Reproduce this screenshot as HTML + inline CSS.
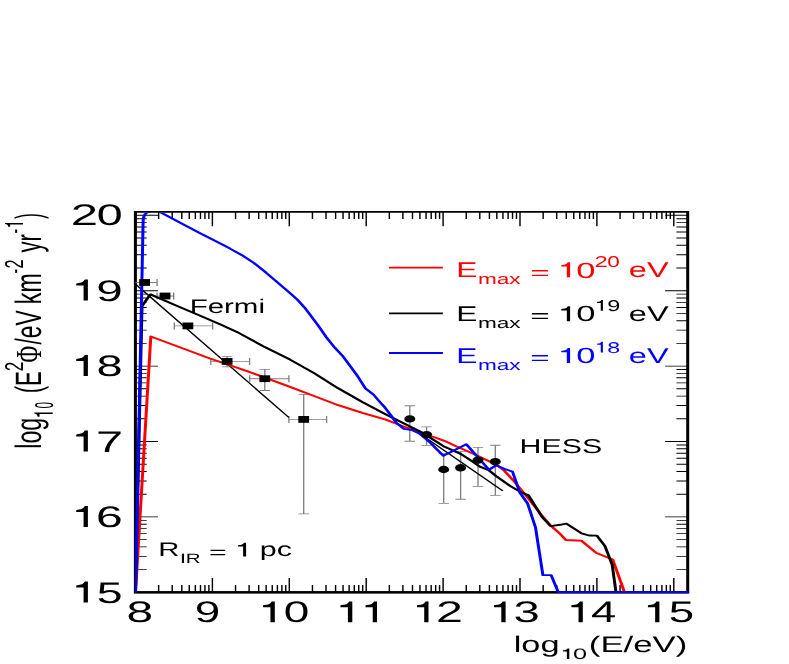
<!DOCTYPE html><html><head><meta charset="utf-8"><title>plot</title><style>html,body{margin:0;padding:0;background:#fff}svg{display:block;will-change:transform}text{font-family:"Liberation Sans",sans-serif;text-rendering:geometricPrecision}.s{font-family:"Liberation Serif",serif}</style></head><body>
<svg width="789" height="664" viewBox="0 0 789 664">
<rect width="789" height="664" fill="#fff"/>
<g transform="scale(1.58 1)">
<defs><clipPath id="c"><rect x="85.443" y="212.8" width="350.759" height="380.6000000000001"/></clipPath></defs>
<path d="M85.696 211.9H435.253V592.2H85.696Z" stroke="#000" stroke-width="1.9" fill="none" stroke-linejoin="miter"/>
<path d="M84.747 592.35H436.203" stroke="#000" stroke-width="2.2" fill="none"/>
<path d="M85.759 592.2v-14.3M85.759 211.9v14.3M100.411 592.2v-7.2M100.411 211.9v7.2M108.981 592.2v-7.2M108.981 211.9v7.2M115.062 592.2v-7.2M115.062 211.9v7.2M119.779 592.2v-7.2M119.779 211.9v7.2M123.633 592.2v-7.2M123.633 211.9v7.2M126.891 592.2v-7.2M126.891 211.9v7.2M129.714 592.2v-7.2M129.714 211.9v7.2M132.203 592.2v-7.2M132.203 211.9v7.2M134.43 592.2v-14.3M134.43 211.9v14.3M149.082 592.2v-7.2M149.082 211.9v7.2M157.652 592.2v-7.2M157.652 211.9v7.2M163.733 592.2v-7.2M163.733 211.9v7.2M168.45 592.2v-7.2M168.45 211.9v7.2M172.304 592.2v-7.2M172.304 211.9v7.2M175.562 592.2v-7.2M175.562 211.9v7.2M178.385 592.2v-7.2M178.385 211.9v7.2M180.874 592.2v-7.2M180.874 211.9v7.2M183.101 592.2v-14.3M183.101 211.9v14.3M197.753 592.2v-7.2M197.753 211.9v7.2M206.323 592.2v-7.2M206.323 211.9v7.2M212.404 592.2v-7.2M212.404 211.9v7.2M217.121 592.2v-7.2M217.121 211.9v7.2M220.975 592.2v-7.2M220.975 211.9v7.2M224.233 592.2v-7.2M224.233 211.9v7.2M227.055 592.2v-7.2M227.055 211.9v7.2M229.545 592.2v-7.2M229.545 211.9v7.2M231.772 592.2v-14.3M231.772 211.9v14.3M246.424 592.2v-7.2M246.424 211.9v7.2M254.994 592.2v-7.2M254.994 211.9v7.2M261.075 592.2v-7.2M261.075 211.9v7.2M265.792 592.2v-7.2M265.792 211.9v7.2M269.645 592.2v-7.2M269.645 211.9v7.2M272.904 592.2v-7.2M272.904 211.9v7.2M275.726 592.2v-7.2M275.726 211.9v7.2M278.216 592.2v-7.2M278.216 211.9v7.2M280.443 592.2v-14.3M280.443 211.9v14.3M295.094 592.2v-7.2M295.094 211.9v7.2M303.665 592.2v-7.2M303.665 211.9v7.2M309.746 592.2v-7.2M309.746 211.9v7.2M314.463 592.2v-7.2M314.463 211.9v7.2M318.316 592.2v-7.2M318.316 211.9v7.2M321.575 592.2v-7.2M321.575 211.9v7.2M324.397 592.2v-7.2M324.397 211.9v7.2M326.887 592.2v-7.2M326.887 211.9v7.2M329.114 592.2v-14.3M329.114 211.9v14.3M343.765 592.2v-7.2M343.765 211.9v7.2M352.336 592.2v-7.2M352.336 211.9v7.2M358.417 592.2v-7.2M358.417 211.9v7.2M363.133 592.2v-7.2M363.133 211.9v7.2M366.987 592.2v-7.2M366.987 211.9v7.2M370.246 592.2v-7.2M370.246 211.9v7.2M373.068 592.2v-7.2M373.068 211.9v7.2M375.558 592.2v-7.2M375.558 211.9v7.2M377.785 592.2v-14.3M377.785 211.9v14.3M392.436 592.2v-7.2M392.436 211.9v7.2M401.007 592.2v-7.2M401.007 211.9v7.2M407.088 592.2v-7.2M407.088 211.9v7.2M411.804 592.2v-7.2M411.804 211.9v7.2M415.658 592.2v-7.2M415.658 211.9v7.2M418.916 592.2v-7.2M418.916 211.9v7.2M421.739 592.2v-7.2M421.739 211.9v7.2M424.229 592.2v-7.2M424.229 211.9v7.2M426.456 592.2v-14.3M426.456 211.9v14.3M85.696 569.60h7.152M435.253 569.60h-7.152M85.696 556.33h7.152M435.253 556.33h-7.152M85.696 546.90h7.152M435.253 546.90h-7.152M85.696 539.60h7.152M435.253 539.60h-7.152M85.696 533.63h7.152M435.253 533.63h-7.152M85.696 528.58h7.152M435.253 528.58h-7.152M85.696 524.21h7.152M435.253 524.21h-7.152M85.696 520.35h7.152M435.253 520.35h-7.152M85.696 516.90h14.304M435.253 516.90h-14.304M85.696 494.20h7.152M435.253 494.20h-7.152M85.696 480.93h7.152M435.253 480.93h-7.152M85.696 471.50h7.152M435.253 471.50h-7.152M85.696 464.20h7.152M435.253 464.20h-7.152M85.696 458.23h7.152M435.253 458.23h-7.152M85.696 453.18h7.152M435.253 453.18h-7.152M85.696 448.81h7.152M435.253 448.81h-7.152M85.696 444.95h7.152M435.253 444.95h-7.152M85.696 441.50h14.304M435.253 441.50h-14.304M85.696 418.80h7.152M435.253 418.80h-7.152M85.696 405.53h7.152M435.253 405.53h-7.152M85.696 396.10h7.152M435.253 396.10h-7.152M85.696 388.80h7.152M435.253 388.80h-7.152M85.696 382.83h7.152M435.253 382.83h-7.152M85.696 377.78h7.152M435.253 377.78h-7.152M85.696 373.41h7.152M435.253 373.41h-7.152M85.696 369.55h7.152M435.253 369.55h-7.152M85.696 366.10h14.304M435.253 366.10h-14.304M85.696 343.40h7.152M435.253 343.40h-7.152M85.696 330.13h7.152M435.253 330.13h-7.152M85.696 320.70h7.152M435.253 320.70h-7.152M85.696 313.40h7.152M435.253 313.40h-7.152M85.696 307.43h7.152M435.253 307.43h-7.152M85.696 302.38h7.152M435.253 302.38h-7.152M85.696 298.01h7.152M435.253 298.01h-7.152M85.696 294.15h7.152M435.253 294.15h-7.152M85.696 290.70h14.304M435.253 290.70h-14.304M85.696 268.00h7.152M435.253 268.00h-7.152M85.696 254.73h7.152M435.253 254.73h-7.152M85.696 245.30h7.152M435.253 245.30h-7.152M85.696 238.00h7.152M435.253 238.00h-7.152M85.696 232.03h7.152M435.253 232.03h-7.152M85.696 226.98h7.152M435.253 226.98h-7.152M85.696 222.61h7.152M435.253 222.61h-7.152M85.696 218.75h7.152M435.253 218.75h-7.152M85.696 215.30h14.304M435.253 215.30h-14.304" stroke="#000" stroke-width="0.9" fill="none"/>
<path d="M85.759 282.5H99.43M99.43 279.0v7.0M99.43 296.0H109.937M109.937 292.5v7.0M99.43 292.5v7.0M110.316 325.9H134.557M134.557 322.4v7.0M110.316 322.4v7.0M133.418 361.4H157.975M157.975 357.9v7.0M133.418 357.9v7.0M143.734 356.4V366.9M140.443 356.4h6.582M140.443 366.9h6.582M157.975 378.7H182.848M182.848 375.2v7.0M157.975 375.2v7.0M167.595 369.4V390.5M164.304 369.4h6.582M164.304 390.5h6.582M182.848 419.4H206.709M206.709 415.9v7.0M182.848 415.9v7.0M192.215 394.3V513.8M188.924 394.3h6.582M188.924 513.8h6.582M259.367 405.7V441.2M256.076 405.7h6.582M256.076 441.2h6.582M270.0 426.9V445.4M266.709 426.9h6.582M266.709 445.4h6.582M280.823 453.6V503.3M277.532 453.6h6.582M277.532 503.3h6.582M291.519 451.4V499.2M288.228 451.4h6.582M288.228 499.2h6.582M302.532 447.3V486.4M299.241 447.3h6.582M299.241 486.4h6.582M313.481 445.2V495.3M310.19 445.2h6.582M310.19 495.3h6.582" stroke="#808080" stroke-width="0.85" fill="none"/>
<path d="M85.759 284.1L182.848 417.5M259.241 426.6L318.228 490.8" stroke="#000" stroke-width="1.15" fill="none" clip-path="url(#c)"/>
<g clip-path="url(#c)" fill="none" stroke-linejoin="round" stroke-width="1.9">
<path d="M85.759 592.2L95.443 336.5L132.911 358.5L158.228 372.2L183.544 386.9L198.797 396L214.051 405.2L229.304 412.9L243.671 419.4L255.127 426.2L268.924 434.3L274.557 437L281.646 441.1L288.671 446.2L297.468 452.2L308.924 460.8L315.443 466.2L319.177 470.7L324.873 480.4L330.063 490.1L334.241 498.1L342.785 515.2L348.513 525.6L354.43 533.7L358.101 540L368.101 540.8L377.468 553L387.785 559.5L392.468 580L395.253 592.2" stroke="#f00"/>
<path d="M85.759 592.2L89.873 306.0L95.19 294.4L111.456 305.5L126.709 315.7L139.241 324.2L151.329 333.1L166.582 346.3L183.544 359.6L198.797 373.1L214.051 388.3L229.304 402L243.671 414L255.063 423L266.519 432L280.696 446.2L291.582 453.9L297.468 459.9L303.734 466.6L309.494 470.3L314.051 476.1L318.544 481.1L322.785 485.9L330.19 492.6L334.494 495.4L343.101 517L348.513 526.1L354.43 524.8L358.481 523.7L368.101 533.4L372.785 535.5L377.785 535.6L382.785 545.8L387.468 564.8L388.797 580L389.873 592.2" stroke="#000"/>
<path d="M85.759 592.3L90.57 222L90.696 219L91.076 216.5L91.709 214.6L92.848 212.8L94.304 210.5L96.203 206L99.367 206L101.519 212.3L110.19 219.4L125.443 232.2L140.696 244.6L145.57 248.6L153.165 255.2L160.823 263.1L168.418 272.7L176.076 283L183.671 293.2L188.291 299.8L192.848 307.7L196.203 314.7L201.329 325.3L206.266 336.7L211.203 346.4L216.582 355.4L221.899 366.7L226.266 376L231.266 388.3L236.392 394.6L241.899 404.6L243.671 407.6L247.215 415L251.013 423L255.633 428.9L260.949 430.2L265.38 433.4L272.025 442.3L280.57 455.7L295.127 444.3L309.494 469.8L314.051 465.3L319.177 468.9L324.367 471.6L328.987 492.5L333.924 503.5L338.924 527.4L343.608 575.1L348.797 575.1L353.354 592.3L436.076 592.3" stroke="#00f"/>
</g>
<rect x="88.101" y="279.1" width="6.835" height="6.8" fill="#000"/>
<rect x="101.013" y="292.6" width="6.835" height="6.8" fill="#000"/>
<rect x="115.506" y="322.5" width="6.835" height="6.8" fill="#000"/>
<rect x="140.316" y="358.0" width="6.835" height="6.8" fill="#000"/>
<rect x="164.177" y="375.3" width="6.835" height="6.8" fill="#000"/>
<rect x="188.797" y="416.0" width="6.835" height="6.8" fill="#000"/>
<ellipse cx="259.367" cy="418.9" rx="3.481" ry="3.7" fill="#000"/>
<ellipse cx="270.0" cy="434.6" rx="3.481" ry="3.7" fill="#000"/>
<ellipse cx="280.823" cy="469.5" rx="3.481" ry="3.7" fill="#000"/>
<ellipse cx="291.519" cy="467.8" rx="3.481" ry="3.7" fill="#000"/>
<ellipse cx="302.532" cy="460.1" rx="3.481" ry="3.7" fill="#000"/>
<ellipse cx="313.481" cy="461.6" rx="3.481" ry="3.7" fill="#000"/>
<path d="M246.203 267.7H280.316" stroke="#f00" stroke-width="1.8"/>
<path d="M246.203 313.3H280.316" stroke="#000" stroke-width="1.8"/>
<path d="M246.203 353.0H280.316" stroke="#00f" stroke-width="1.8"/>
</g>
<path transform="translate(76.20 581.60) scale(1.0541 0.9905)" fill="#000" d="M11.1 0V21.1H7V6H0.4Q0 6 0 5.4V4.5Q0 3.8 1 3.7C4.5 3.4 7.2 2.6 8.2 0Z"/>
<text transform="translate(96.64 602.50) scale(1.5613 1)" font-size="29.8" fill="#000">5</text>
<path transform="translate(76.20 506.10) scale(1.0541 0.9905)" fill="#000" d="M11.1 0V21.1H7V6H0.4Q0 6 0 5.4V4.5Q0 3.8 1 3.7C4.5 3.4 7.2 2.6 8.2 0Z"/>
<text transform="translate(96.10 527.00) scale(1.6122 1)" font-size="29.8" fill="#000">6</text>
<path transform="translate(76.20 430.60) scale(1.0541 0.9905)" fill="#000" d="M11.1 0V21.1H7V6H0.4Q0 6 0 5.4V4.5Q0 3.8 1 3.7C4.5 3.4 7.2 2.6 8.2 0Z"/>
<text transform="translate(96.07 451.50) scale(1.6299 1)" font-size="29.8" fill="#000">7</text>
<path transform="translate(76.20 355.10) scale(1.0541 0.9905)" fill="#000" d="M11.1 0V21.1H7V6H0.4Q0 6 0 5.4V4.5Q0 3.8 1 3.7C4.5 3.4 7.2 2.6 8.2 0Z"/>
<text transform="translate(96.38 376.00) scale(1.5779 1)" font-size="29.8" fill="#000">8</text>
<path transform="translate(76.20 279.60) scale(1.0541 0.9905)" fill="#000" d="M11.1 0V21.1H7V6H0.4Q0 6 0 5.4V4.5Q0 3.8 1 3.7C4.5 3.4 7.2 2.6 8.2 0Z"/>
<text transform="translate(96.36 300.50) scale(1.5949 1)" font-size="29.8" fill="#000">9</text>
<text transform="translate(70.75 225.00) scale(1.6447 1)" font-size="29.8" fill="#000">2</text>
<text transform="translate(96.64 225.00) scale(1.5613 1)" font-size="29.8" fill="#000">0</text>
<text transform="translate(126.45 622.30) scale(1.6065 1)" font-size="29.8" fill="#000">8</text>
<text transform="translate(194.84 622.30) scale(1.5371 1)" font-size="29.8" fill="#000">9</text>
<path transform="translate(263.00 601.40) scale(1.0631 0.9905)" fill="#000" d="M11.1 0V21.1H7V6H0.4Q0 6 0 5.4V4.5Q0 3.8 1 3.7C4.5 3.4 7.2 2.6 8.2 0Z"/>
<text transform="translate(283.66 622.30) scale(1.5401 1)" font-size="29.8" fill="#000">0</text>
<path transform="translate(340.40 601.40) scale(1.0721 0.9905)" fill="#000" d="M11.1 0V21.1H7V6H0.4Q0 6 0 5.4V4.5Q0 3.8 1 3.7C4.5 3.4 7.2 2.6 8.2 0Z"/>
<path transform="translate(365.50 601.40) scale(1.0360 0.9905)" fill="#000" d="M11.1 0V21.1H7V6H0.4Q0 6 0 5.4V4.5Q0 3.8 1 3.7C4.5 3.4 7.2 2.6 8.2 0Z"/>
<path transform="translate(416.90 601.40) scale(1.0450 0.9905)" fill="#000" d="M11.1 0V21.1H7V6H0.4Q0 6 0 5.4V4.5Q0 3.8 1 3.7C4.5 3.4 7.2 2.6 8.2 0Z"/>
<text transform="translate(435.88 622.30) scale(1.6225 1)" font-size="29.8" fill="#000">2</text>
<path transform="translate(494.00 601.40) scale(1.0450 0.9905)" fill="#000" d="M11.1 0V21.1H7V6H0.4Q0 6 0 5.4V4.5Q0 3.8 1 3.7C4.5 3.4 7.2 2.6 8.2 0Z"/>
<text transform="translate(513.61 622.30) scale(1.5850 1)" font-size="29.8" fill="#000">3</text>
<path transform="translate(571.30 601.40) scale(1.0360 0.9905)" fill="#000" d="M11.1 0V21.1H7V6H0.4Q0 6 0 5.4V4.5Q0 3.8 1 3.7C4.5 3.4 7.2 2.6 8.2 0Z"/>
<text transform="translate(591.07 622.30) scale(1.5235 1)" font-size="29.8" fill="#000">4</text>
<path transform="translate(647.90 601.40) scale(1.0360 0.9905)" fill="#000" d="M11.1 0V21.1H7V6H0.4Q0 6 0 5.4V4.5Q0 3.8 1 3.7C4.5 3.4 7.2 2.6 8.2 0Z"/>
<text transform="translate(668.67 622.30) scale(1.5330 1)" font-size="29.8" fill="#000">5</text>
<text transform="translate(189.64 313.00) scale(1.4900 1)" font-size="19.8" fill="#000">Fermi</text>
<text transform="translate(519.57 453.10) scale(1.5164 1)" font-size="20.0" fill="#000">HESS</text>
<text transform="translate(158.25 556.40) scale(1.4854 1)" font-size="19.8" fill="#000">R</text>
<text transform="translate(179.82 562.90) scale(1.7028 1)" font-size="13.6" fill="#000">I</text>
<text transform="translate(185.76 562.90) scale(1.5077 1)" font-size="13.6" fill="#000">R</text>
<text transform="translate(208.88 557.55) scale(1.5308 0.85)" font-size="19.8" fill="#000">=</text>
<path transform="translate(238.00 542.70) scale(0.7297 0.6493)" fill="#000" d="M11.1 0V21.1H7V6H0.4Q0 6 0 5.4V4.5Q0 3.8 1 3.7C4.5 3.4 7.2 2.6 8.2 0Z"/>
<text transform="translate(259.72 556.40) scale(1.5387 1)" font-size="19.8" fill="#000">pc</text>
<text transform="translate(456.36 277.30) scale(1.4833 1)" font-size="21.4" fill="#f00">E</text>
<text transform="translate(477.93 284.20) scale(1.5060 1)" font-size="15.0" fill="#f00">max</text>
<text transform="translate(530.14 278.55) scale(1.5512 0.85)" font-size="21.4" fill="#f00">=</text>
<path transform="translate(561.20 262.30) scale(0.8018 0.7109)" fill="#f00" d="M11.1 0V21.1H7V6H0.4Q0 6 0 5.4V4.5Q0 3.8 1 3.7C4.5 3.4 7.2 2.6 8.2 0Z"/>
<text transform="translate(576.22 277.50) scale(1.5694 1)" font-size="22.0" fill="#f00">0</text>
<text transform="translate(594.40 266.90) scale(1.5356 1)" font-size="15.6" fill="#f00">2</text>
<text transform="translate(607.30 266.90) scale(1.4440 1)" font-size="15.6" fill="#f00">0</text>
<text transform="translate(628.84 277.30) scale(1.5177 1)" font-size="21.4" fill="#f00">eV</text>
<text transform="translate(456.36 321.20) scale(1.4833 1)" font-size="21.4" fill="#000">E</text>
<text transform="translate(477.93 328.10) scale(1.5060 1)" font-size="15.0" fill="#000">max</text>
<text transform="translate(530.14 322.45) scale(1.5512 0.85)" font-size="21.4" fill="#000">=</text>
<path transform="translate(561.20 306.20) scale(0.8018 0.7109)" fill="#000" d="M11.1 0V21.1H7V6H0.4Q0 6 0 5.4V4.5Q0 3.8 1 3.7C4.5 3.4 7.2 2.6 8.2 0Z"/>
<text transform="translate(576.22 321.40) scale(1.5694 1)" font-size="22.0" fill="#000">0</text>
<path transform="translate(597.10 299.90) scale(0.5225 0.5166)" fill="#000" d="M11.1 0V21.1H7V6H0.4Q0 6 0 5.4V4.5Q0 3.8 1 3.7C4.5 3.4 7.2 2.6 8.2 0Z"/>
<text transform="translate(607.15 310.80) scale(1.5026 1)" font-size="15.6" fill="#000">9</text>
<text transform="translate(628.84 321.20) scale(1.5177 1)" font-size="21.4" fill="#000">eV</text>
<text transform="translate(456.36 363.00) scale(1.4833 1)" font-size="21.4" fill="#00f">E</text>
<text transform="translate(477.93 369.90) scale(1.5060 1)" font-size="15.0" fill="#00f">max</text>
<text transform="translate(530.14 364.25) scale(1.5512 0.85)" font-size="21.4" fill="#00f">=</text>
<path transform="translate(561.20 348.00) scale(0.8018 0.7109)" fill="#00f" d="M11.1 0V21.1H7V6H0.4Q0 6 0 5.4V4.5Q0 3.8 1 3.7C4.5 3.4 7.2 2.6 8.2 0Z"/>
<text transform="translate(576.22 363.20) scale(1.5694 1)" font-size="22.0" fill="#00f">0</text>
<path transform="translate(597.10 341.70) scale(0.5225 0.5166)" fill="#00f" d="M11.1 0V21.1H7V6H0.4Q0 6 0 5.4V4.5Q0 3.8 1 3.7C4.5 3.4 7.2 2.6 8.2 0Z"/>
<text transform="translate(607.16 352.60) scale(1.4866 1)" font-size="15.6" fill="#00f">8</text>
<text transform="translate(628.84 363.00) scale(1.5177 1)" font-size="21.4" fill="#00f">eV</text>
<text transform="translate(513.67 651.70) scale(1.5202 1)" font-size="22.6" fill="#000">log</text>
<path transform="translate(562.70 648.40) scale(0.5946 0.4976)" fill="#000" d="M11.1 0V21.1H7V6H0.4Q0 6 0 5.4V4.5Q0 3.8 1 3.7C4.5 3.4 7.2 2.6 8.2 0Z"/>
<text transform="translate(572.89 658.90) scale(1.6842 1)" font-size="15.0" fill="#000">0</text>
<text transform="translate(588.81 651.70) scale(1.5381 1)" font-size="22.6" fill="#000">(E/eV)</text>
<text transform="rotate(-90) translate(-448.70 40.6) scale(1.0245 1.62)" font-size="22.6" fill="#000">log</text>
<path transform="rotate(-90) translate(-416.80 34.30) scale(0.3964 0.8720)" fill="#000" d="M11.1 0V21.1H7V6H0.4Q0 6 0 5.4V4.5Q0 3.8 1 3.7C4.5 3.4 7.2 2.6 8.2 0Z"/>
<text transform="rotate(-90) translate(-408.47 52.7) scale(0.7860 1.7200000000000002)" font-size="15.0" fill="#000">0</text>
<text transform="rotate(-90) translate(-393.33 40.6) scale(0.9833 1.62)" font-size="22.6" fill="#000">(E</text>
<text transform="rotate(-90) translate(-371.36 23.0) scale(1.1429 1.7200000000000002)" font-size="15.0" fill="#000">2</text>
<text class="s" transform="rotate(-90) translate(-362.45 40.6) scale(1.0077 1.62)" font-size="22.6" fill="#000">Φ</text>
<text transform="rotate(-90) translate(-344.60 40.6) scale(1.0093 1.62)" font-size="22.6" fill="#000">/eV</text>
<text transform="rotate(-90) translate(-304.21 40.6) scale(1.0288 1.62)" font-size="22.6" fill="#000">km</text>
<text transform="rotate(-90) translate(-273.42 23.0) scale(0.9252 1.7200000000000002)" font-size="15.0" fill="#000">-</text>
<text transform="rotate(-90) translate(-268.51 23.0) scale(1.0842 1.7200000000000002)" font-size="15.0" fill="#000">2</text>
<text transform="rotate(-90) translate(-252.61 40.6) scale(0.9887 1.62)" font-size="22.6" fill="#000">yr</text>
<text transform="rotate(-90) translate(-233.52 23.0) scale(0.9252 1.7200000000000002)" font-size="15.0" fill="#000">-</text>
<path transform="rotate(-90) translate(-226.70 5.00) scale(0.3243 0.8531)" fill="#000" d="M11.1 0V21.1H7V6H0.4Q0 6 0 5.4V4.5Q0 3.8 1 3.7C4.5 3.4 7.2 2.6 8.2 0Z"/>
<text transform="rotate(-90) translate(-218.87 40.6) scale(0.7488 1.62)" font-size="22.6" fill="#000">)</text>
</svg></body></html>
